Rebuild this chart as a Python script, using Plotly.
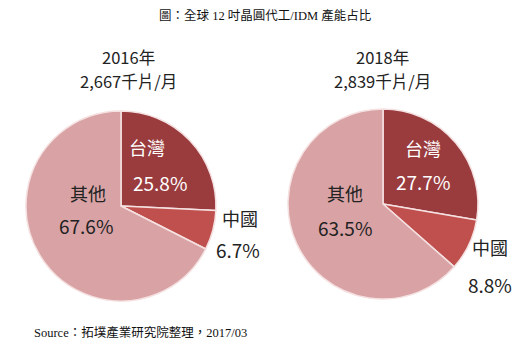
import plotly.graph_objects as go

W, H = 530, 349

categories = ["台灣", "中國", "其他"]
values_2016 = [25.8, 6.7, 67.6]
values_2018 = [27.7, 8.8, 63.5]
years = ["2016年", "2018年"]
capacities = ["2,667千片/月", "2,839千片/月"]
colors = ["#9A3B3E", "#C0504D", "#D9A3A5"]
title_text = "圖：全球 12 吋晶圓代工/IDM 產能占比"
source_text = "Source：拓墣產業研究院整理，2017/03"

def px(x):
    return x / W

def py(y):
    return 1 - y / H

fig = go.Figure()

pies = [
    (values_2016, (26, 216), (111, 301)),
    (values_2018, (288, 478), (109, 299)),
]
for vals, (x0, x1), (y0, y1) in pies:
    fig.add_trace(go.Pie(
        labels=categories, values=vals, sort=False, direction="clockwise",
        rotation=0, textinfo="none", hoverinfo="label+percent",
        marker=dict(colors=colors, line=dict(color="#F5E1E1", width=1.5)),
        domain=dict(x=[px(x0), px(x1)], y=[py(y1), py(y0)]),
        showlegend=False,
    ))

sans = "Noto Sans CJK TC, Noto Sans, sans-serif"
serif = "Liberation Serif, Noto Sans CJK TC, serif"

ann = []
def add(text, x, y, size, color="#222", family=sans, xanchor="center"):
    ann.append(dict(text=text, x=px(x), y=py(y), xref="paper", yref="paper",
                    showarrow=False, font=dict(size=size, color=color, family=family),
                    xanchor=xanchor, yanchor="middle", borderpad=0))

add(title_text, 265, 15, 12.5, "#111", serif)
add(source_text, 33, 332, 12.5, "#111", serif, xanchor="left")

# 2016
add(years[0], 128, 57, 16.5)
add(capacities[0], 128, 81, 16.5)
add(categories[0], 147, 147, 18, "white")
add(f"{values_2016[0]}%", 160, 183, 19, "white")
add(categories[2], 88, 193, 18)
add(f"{values_2016[2]}%", 86, 225, 19)
add(categories[1], 240, 218, 18)
add(f"{values_2016[1]}%", 238, 249, 19)

# 2018
add(years[1], 382, 57, 16.5)
add(capacities[1], 382, 81, 16.5)
add(categories[0], 423, 148, 18, "white")
add(f"{values_2018[0]}%", 423, 182, 19, "white")
add(categories[2], 345, 193, 18)
add(f"{values_2018[2]}%", 345, 227, 19)
add(categories[1], 490, 247, 18)
add(f"{values_2018[1]}%", 490, 284, 19)

fig.update_layout(
    width=W, height=H, margin=dict(l=0, r=0, t=0, b=0),
    paper_bgcolor="white", plot_bgcolor="white",
    annotations=ann,
)

fig.write_html("out.html")
